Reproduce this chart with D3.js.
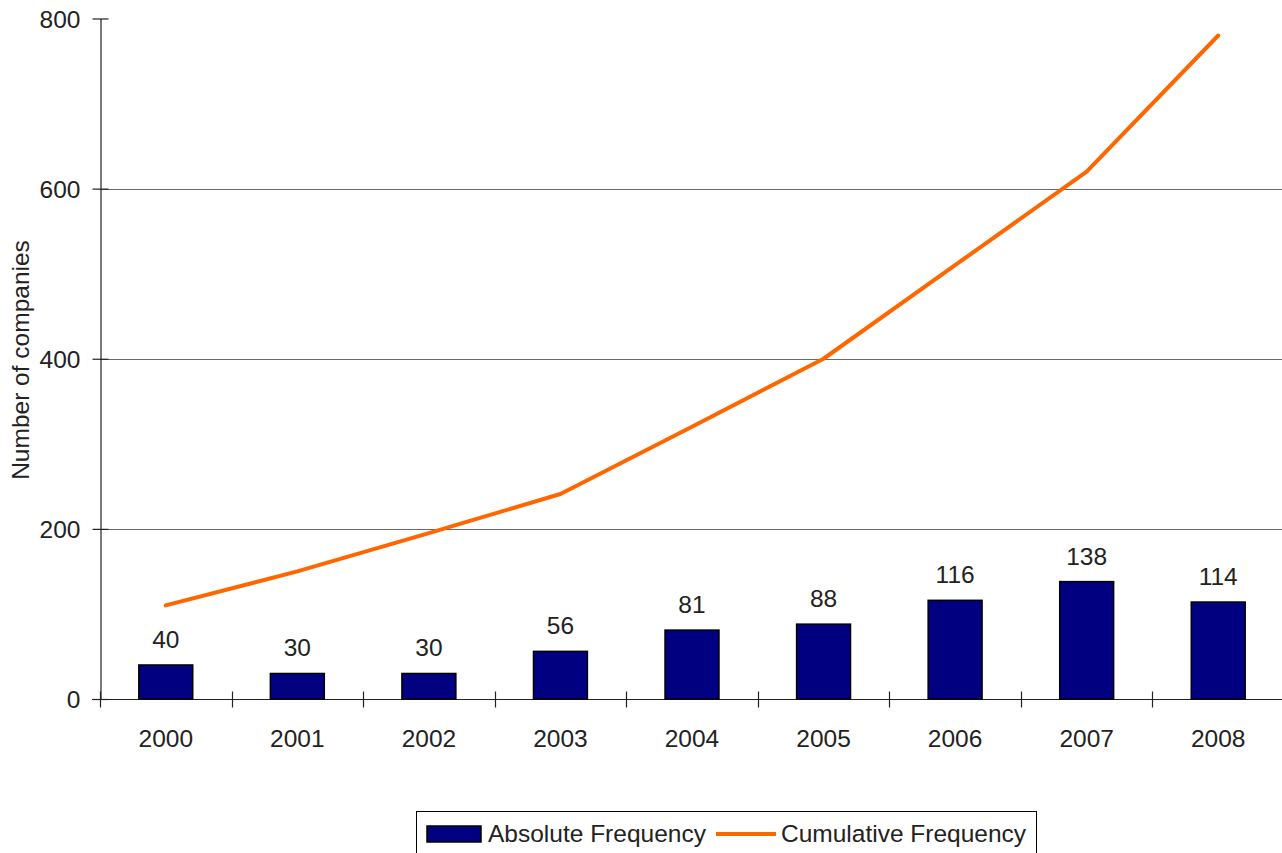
<!DOCTYPE html>
<html>
<head>
<meta charset="utf-8">
<script src="https://cdn.jsdelivr.net/npm/d3@7"></script>
<style>
  html, body { margin: 0; padding: 0; background: #fff; }
  svg { display: block; }
  text { font-family: "Liberation Sans", Arial, Helvetica, sans-serif; fill: #222; }
</style>
</head>
<body>
<script>
// Companies per year and running total
const years = ["2000", "2001", "2002", "2003", "2004", "2005", "2006", "2007", "2008"];
const absoluteFrequency = [40, 30, 30, 56, 81, 88, 116, 138, 114];
const cumulativeFrequency = [110, 150, 195, 241, 320, 400, 510, 620, 780];
const yTicks = [0, 200, 400, 600, 800];
const seriesNames = ["Absolute Frequency", "Cumulative Frequency"];

const W = 1282, H = 853;
const fontSize = 24.5;

const svg = d3.select("body").append("svg")
  .attr("width", W).attr("height", H);
svg.append("rect").attr("width", W).attr("height", H).attr("fill", "#fff");

const x = d3.scaleBand().domain(years).range([100, 1284]).padding(0);
const y = d3.scaleLinear().domain([0, 800]).range([699, 18.5]);
const barW = x.bandwidth() * 0.41;

// horizontal gridlines (not at the top)
svg.append("g").selectAll("line")
  .data(yTicks.filter(t => t > 0 && t < 800))
  .join("line")
  .attr("x1", 100).attr("x2", W)
  .attr("y1", d => Math.round(y(d)) + 0.5).attr("y2", d => Math.round(y(d)) + 0.5)
  .attr("stroke", "#6a6a6a").attr("stroke-width", 1);

// y axis
const yAxis = svg.append("g").attr("transform", "translate(100.5,0)")
  .call(d3.axisLeft(y).tickValues(yTicks).tickSize(0).tickPadding(20));
yAxis.select(".domain").attr("stroke", "#222").attr("stroke-width", 1.2);
yAxis.selectAll(".tick text").attr("font-size", fontSize)
  .attr("font-family", "Liberation Sans, Arial, sans-serif").attr("fill", "#222")
  .attr("x", -20).attr("dy", "0.35em");
// crossing tick marks
yAxis.selectAll(".tick").append("line")
  .attr("x1", -8).attr("x2", 8).attr("stroke", "#222").attr("stroke-width", 1.2);

// x axis
const xAxisY = Math.round(y(0)) + 0.5;
svg.append("line").attr("x1", 92).attr("x2", W)
  .attr("y1", xAxisY).attr("y2", xAxisY)
  .attr("stroke", "#222").attr("stroke-width", 1.2);
svg.append("g").selectAll("line")
  .data(years.concat(["end"]))
  .join("line")
  .attr("x1", (d, i) => Math.round(100 + i * x.bandwidth()) + 0.5)
  .attr("x2", (d, i) => Math.round(100 + i * x.bandwidth()) + 0.5)
  .attr("y1", xAxisY - 8).attr("y2", xAxisY + 8)
  .attr("stroke", "#222").attr("stroke-width", 1.2);
svg.append("g").selectAll("text")
  .data(years)
  .join("text")
  .attr("x", d => x(d) + x.bandwidth() / 2)
  .attr("y", 747)
  .attr("text-anchor", "middle")
  .attr("font-size", fontSize)
  .text(d => d);

// y axis title
svg.append("text")
  .attr("transform", "translate(29,360) rotate(-90)")
  .attr("text-anchor", "middle")
  .attr("font-size", fontSize)
  .text("Number of companies");

// bars
const bars = years.map((yr, i) => ({ yr, v: absoluteFrequency[i] }));
svg.append("g").selectAll("rect")
  .data(bars)
  .join("rect")
  .attr("x", d => x(d.yr) + (x.bandwidth() - barW) / 2)
  .attr("y", d => y(d.v))
  .attr("width", barW)
  .attr("height", d => y(0) - y(d.v))
  .attr("fill", "#000080")
  .attr("stroke", "#000")
  .attr("stroke-width", 1.5);

// bar value labels
svg.append("g").selectAll("text")
  .data(bars)
  .join("text")
  .attr("x", d => x(d.yr) + x.bandwidth() / 2)
  .attr("y", d => y(d.v) - 17)
  .attr("text-anchor", "middle")
  .attr("font-size", fontSize)
  .text(d => d.v);

// cumulative line
const pts = years.map((yr, i) => [x(yr) + x.bandwidth() / 2, y(cumulativeFrequency[i])]);
svg.append("path")
  .attr("d", d3.line()(pts))
  .attr("fill", "none")
  .attr("stroke", "#ff6600")
  .attr("stroke-width", 4)
  .attr("stroke-linejoin", "round")
  .attr("stroke-linecap", "round");

// legend
const lg = svg.append("g");
lg.append("rect").attr("x", 416.5).attr("y", 811.5).attr("width", 620).attr("height", 60)
  .attr("fill", "#fff").attr("stroke", "#000").attr("stroke-width", 1);
lg.append("rect").attr("x", 427).attr("y", 826).attr("width", 54).attr("height", 16)
  .attr("fill", "#000080").attr("stroke", "#000").attr("stroke-width", 1.5);
lg.append("text").attr("x", 488).attr("y", 842).attr("font-size", fontSize).text(seriesNames[0]);
lg.append("line").attr("x1", 716).attr("x2", 776).attr("y1", 834).attr("y2", 834)
  .attr("stroke", "#ff6600").attr("stroke-width", 4);
lg.append("text").attr("x", 781).attr("y", 842).attr("font-size", fontSize).text(seriesNames[1]);
</script>
</body>
</html>
